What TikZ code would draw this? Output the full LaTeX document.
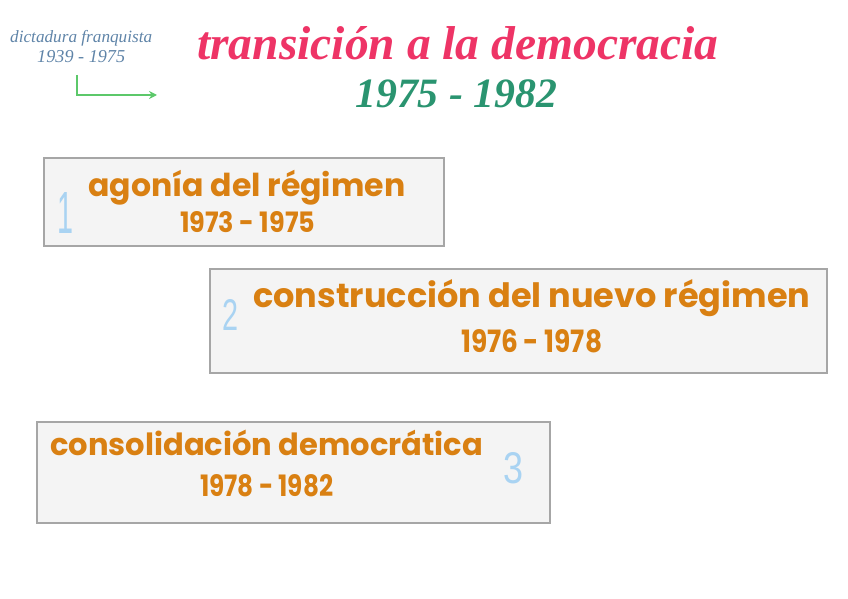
\documentclass[tikz,border=0pt]{standalone}
\usepackage{fontspec}
\setmainfont{Poppins}
\newfontfamily\scriptf{Liberation Serif}
\newfontfamily\numf{Liberation Sans}
\usetikzlibrary{arrows.meta}
\definecolor{boxfill}{HTML}{F4F4F4}
\definecolor{boxline}{HTML}{A6A6A6}
\definecolor{orangetxt}{HTML}{D98012}
\definecolor{pinktxt}{HTML}{EE3466}
\definecolor{greentxt}{HTML}{2A9470}
\definecolor{bluetxt}{HTML}{5F84A8}
\definecolor{lightblue}{HTML}{A9D3F2}
\definecolor{arrowgreen}{HTML}{5CC86A}
\newcommand{\fitw}[2]{\resizebox{#1}{!}{#2}}
\newcommand{\fitwh}[3]{\resizebox{#1}{#2}{#3}}
\tikzset{
  periodbox/.style={draw=boxline, line width=1.5pt, fill=boxfill, anchor=north west, inner sep=0pt},
  txt/.style={inner sep=0pt, anchor=base west},
  heading/.style={txt, text=orangetxt, font=\bfseries},
  years/.style={txt, text=orangetxt, font=\bfseries},
  numlabel/.style={txt, text=lightblue, font=\numf},
  titletxt/.style={txt, text=pinktxt, font=\scriptf\itshape\bfseries},
  subtitletxt/.style={txt, text=greentxt, font=\scriptf\itshape\bfseries},
  cornertxt/.style={txt, text=bluetxt, font=\scriptf\itshape},
}
\begin{document}
\begin{tikzpicture}[x=1pt,y=-1pt]
\useasboundingbox (0,0) rectangle (848,599);
% title
\node[titletxt] (title) at (197,60) {\fitw{521pt}{transición a la democracia}};
\node[subtitletxt] (sub) at (355,108) {\fitw{202pt}{1975 - 1982}};
% corner
\node[cornertxt] (dict) at (10,43) {\fitw{142pt}{dictadura franquista}};
\node[cornertxt] (dictyrs) at (37,63) {\fitw{88pt}{1939 - 1975}};
\coordinate (a0) at (77,75);
\coordinate (a1) at (77,95);
\coordinate (a2) at (157,95);
\draw[arrowgreen, line width=2pt, -{Stealth[length=8pt,width=8pt]}] (a0) -- (a1) -- (a2);
% boxes
\node[periodbox, minimum width=400pt, minimum height=88pt] (b1) at (43,157) {};
\node[periodbox, minimum width=617pt, minimum height=104pt] (b2) at (209,268) {};
\node[periodbox, minimum width=513pt, minimum height=101pt] (b3) at (36,421) {};
% box 1
\node[heading] (h1) at (88,196) {\fitw{317pt}{agonía del régimen}};
\node[years] (y1) at (180,232) {\fitwh{135pt}{21pt}{1973 - 1975}};
\node[numlabel] (n1) at (57,233) {\fitwh{16pt}{41pt}{1}};
% box 2
\node[heading] (h2) at (253,307) {\fitw{557pt}{construcción del nuevo régimen}};
\node[years] (y2) at (461,352) {\fitwh{141pt}{23pt}{1976 - 1978}};
\node[numlabel] (n2) at (222,330) {\fitwh{16pt}{31pt}{2}};
% box 3
\node[heading] (h3) at (50,455) {\fitw{433pt}{consolidación democrática}};
\node[years] (y3) at (200,496) {\fitwh{133pt}{22pt}{1978 - 1982}};
\node[numlabel] (n3) at (503,483) {\fitwh{20pt}{31pt}{3}};
\end{tikzpicture}
\end{document}
